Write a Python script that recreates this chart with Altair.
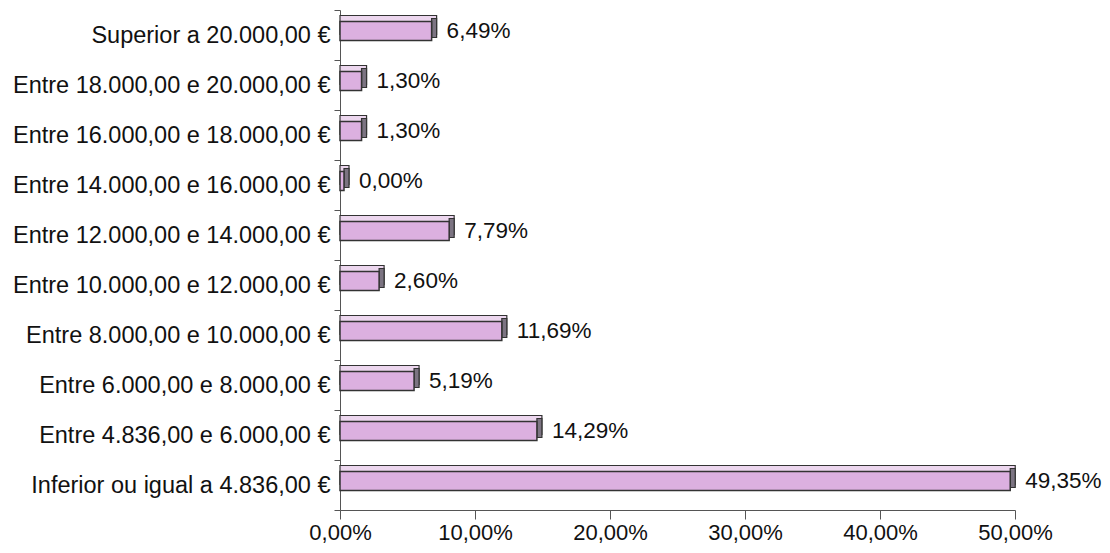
import altair as alt
import pandas as pd

categories = [
    "Superior a 20.000,00 €",
    "Entre 18.000,00 e 20.000,00 €",
    "Entre 16.000,00 e 18.000,00 €",
    "Entre 14.000,00 e 16.000,00 €",
    "Entre 12.000,00 e 14.000,00 €",
    "Entre 10.000,00 e 12.000,00 €",
    "Entre 8.000,00 e 10.000,00 €",
    "Entre 6.000,00 e 8.000,00 €",
    "Entre 4.836,00 e 6.000,00 €",
    "Inferior ou igual a 4.836,00 €",
]
values = [6.49, 1.30, 1.30, 0.00, 7.79, 2.60, 11.69, 5.19, 14.29, 49.35]
tick_values = [0, 10, 20, 30, 40, 50]

df = pd.DataFrame({"cat": categories, "val": values})
df["label"] = [f"{v:.2f}".replace(".", ",") + "%" for v in values]

FONT = "Liberation Sans"
BAR = 19
TXT = "#111111"

y_enc = alt.Y(
    "cat:N",
    sort=categories,
    title=None,
    scale=alt.Scale(paddingInner=0, paddingOuter=0),
    axis=alt.Axis(
        tickBand="extent",
        domainColor="#555555",
        tickColor="#555555",
        tickSize=6,
        labelFont=FONT,
        labelFontSize=23.5,
        labelColor=TXT,
        labelPadding=4,
        labelLimit=400,
        grid=False,
    ),
)
x_enc = alt.X(
    "val:Q",
    title=None,
    stack=False,
    scale=alt.Scale(domain=[0, 50], nice=False),
    axis=alt.Axis(
        values=tick_values,
        labelExpr="replace(format(datum.value, '.2f'), '.', ',') + '%'",
        labelFlush=False,
        domainColor="#555555",
        tickColor="#555555",
        tickSize=9,
        labelFont=FONT,
        labelFontSize=22,
        labelColor=TXT,
        labelPadding=3,
        grid=False,
    ),
)

base = alt.Chart(df).encode(y=y_enc)

back = base.mark_bar(
    size=BAR, xOffset=9, x2Offset=9, yOffset=-10, y2Offset=-10,
    fill="#ecd6ee", stroke="#333333", strokeWidth=1.2,
).encode(x=x_enc)

side = base.mark_bar(
    size=BAR, xOffset=4, x2Offset=9, yOffset=-7, y2Offset=-7,
    fill="#7c7482", stroke="#333333", strokeWidth=1.2,
).encode(x=x_enc, x2="val:Q")

front = base.mark_bar(
    size=BAR, xOffset=4, x2Offset=4, yOffset=-4, y2Offset=-4,
    fill="#dcb0e0", stroke="#333333", strokeWidth=1.5,
).encode(x=x_enc)

text = base.mark_text(
    align="left", baseline="middle", dx=19, dy=-4,
    font=FONT, fontSize=22.5, color=TXT,
).encode(x=x_enc, text="label:N")

chart = (
    alt.layer(back, side, front, text)
    .properties(
        width=675,
        height=500,
        background="white",
        autosize=alt.AutoSizeParams(type="none"),
        padding={"left": 332, "top": 2, "right": 87, "bottom": 35},
    )
    .configure_view(stroke=None)
)

chart.save("out.html", embed_options={"renderer": "svg", "actions": False})
